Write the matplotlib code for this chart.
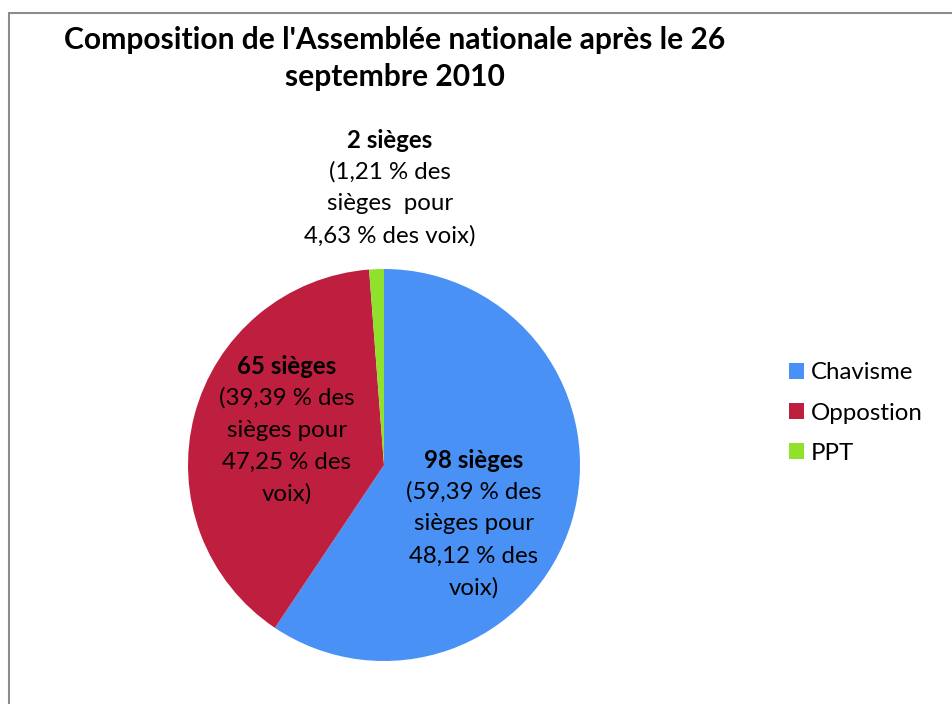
#!/usr/bin/env python3
"""Composition de l'Assemblee nationale (Venezuela) apres le 26 septembre 2010."""

import matplotlib.pyplot as plt
from matplotlib.patches import Rectangle

plt.rcParams['font.family'] = ['Lato', 'DejaVu Sans']

PARTIES = ["Chavisme", "Oppostion", "PPT"]
SEATS = [98, 65, 2]
SEAT_PCT = ["59,39", "39,39", "1,21"]
VOTE_PCT = ["48,12", "47,25", "4,63"]
COLORS = ["#4A91F5", "#BE1F3E", "#8FE12B"]

W, H = 953, 704
CX, CY, R = 384, 465, 196


def main():
    fig = plt.figure(figsize=(W / 100, H / 100), dpi=100)
    fig.patch.set_facecolor("white")

    # chart frame (cropped at right and bottom)
    fig.patches.append(Rectangle((9 / W, -0.1), 1.2, 1 - 13 / H + 0.1,
                                 transform=fig.transFigure, fill=False,
                                 edgecolor="#8c8c8c", linewidth=1.5))

    ax = fig.add_axes([(CX - R) / W, (H - CY - R) / H, 2 * R / W, 2 * R / H])
    wedges, _ = ax.pie(SEATS, colors=COLORS, startangle=90, counterclock=False,
                       radius=1.0, wedgeprops=dict(linewidth=0))
    ax.set_xlim(-1, 1)
    ax.set_ylim(-1, 1)
    ax.set_aspect("auto")
    ax.axis("off")

    fig.text(395 / W, 1 - 40 / H, "Composition de l'Assemblée nationale après le 26",
             ha="center", va="center", fontsize=21.6, fontweight="bold")
    fig.text(395 / W, 1 - 77 / H, "septembre 2010",
             ha="center", va="center", fontsize=21.6, fontweight="bold")

    # data labels: (center x px, first line y px, lines)
    label_lines = [
        [f"({SEAT_PCT[0]} % des", "sièges pour", f"{VOTE_PCT[0]} % des", "voix)"],
        [f"({SEAT_PCT[1]} % des", "sièges pour", f"{VOTE_PCT[1]} % des", "voix)"],
        [f"({SEAT_PCT[2]} % des", "sièges  pour", f"{VOTE_PCT[2]} % des voix)"],
    ]
    label_pos = [(474, 460), (287, 366), (390, 140)]
    step = 32
    for i in range(len(SEATS)):
        px, py = label_pos[i]
        x = (px - CX) / R
        ax.text(x, (CY - py) / R, f"{SEATS[i]} sièges", ha="center", va="center",
                fontsize=17.3, fontweight="bold", clip_on=False)
        for k, line in enumerate(label_lines[i]):
            ax.text(x, (CY - py - step * (k + 1)) / R, line, ha="center", va="center",
                    fontsize=17.3, clip_on=False)

    fig.legend(wedges, PARTIES, loc="center left",
               bbox_to_anchor=(777 / W, 1 - 413 / H), frameon=False,
               fontsize=17.3, borderpad=0, handlelength=0.62, handleheight=0.62,
               handletextpad=0.3, labelspacing=0.8)

    plt.savefig("out.png", dpi=100, facecolor="white")
    plt.close()


if __name__ == "__main__":
    main()
